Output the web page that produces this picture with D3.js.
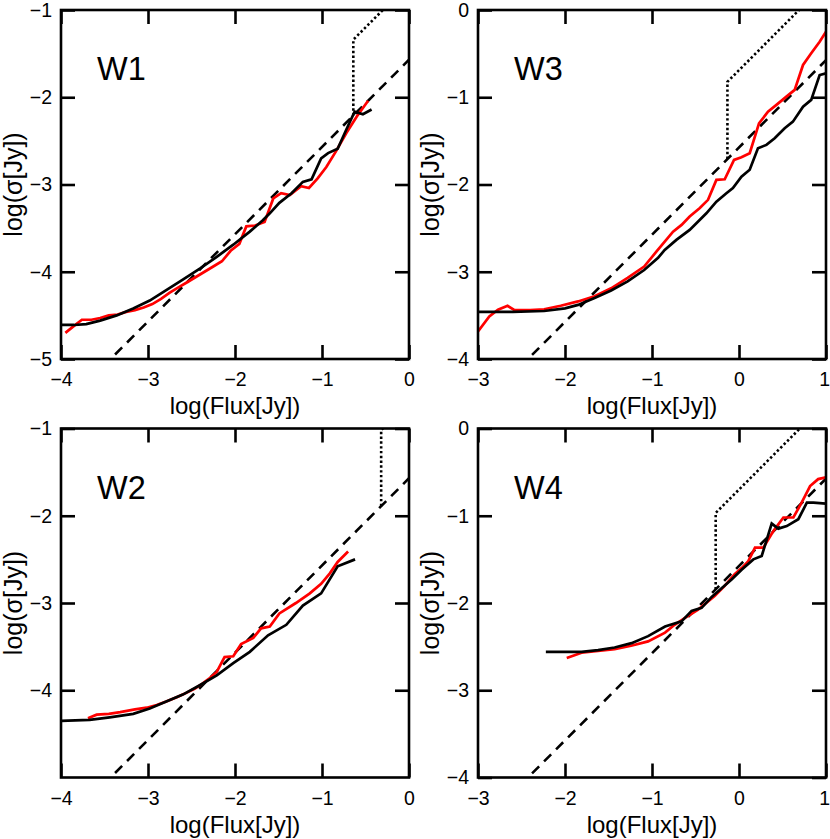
<!DOCTYPE html>
<html><head><meta charset="utf-8">
<script src="https://cdn.jsdelivr.net/npm/d3@7"></script>
<style>
body{margin:0;background:#fff}
svg{display:block}
text{font-family:"Liberation Sans",Arial,Helvetica,sans-serif;fill:#000}
</style>
</head><body>
<svg id="chart" width="830" height="839"></svg>
<script>
// ---------------- data ----------------
const bandNames = ["W1", "W3", "W2", "W4"];

const xDomainW12 = [-4, 0];
const yDomainW12 = [-5, -1];
const xDomainW34 = [-3, 1];
const yDomainW34 = [-4, 0];

const xTicksW12 = [-4, -3, -2, -1, 0];
const yTicksW1 = [-5, -4, -3, -2, -1];
const yTicksW2 = [-4, -3, -2, -1];
const xTicksW34 = [-3, -2, -1, 0, 1];
const yTicksW34 = [-4, -3, -2, -1, 0];

// red curves [log Flux, log sigma]
const redW1 = [[-3.95,-4.70],[-3.85,-4.62],[-3.76,-4.55],[-3.65,-4.55],[-3.55,-4.53],[-3.45,-4.50],[-3.35,-4.49],[-3.25,-4.46],[-3.15,-4.44],[-3.05,-4.41],[-2.95,-4.37],[-2.85,-4.31],[-2.75,-4.24],[-2.65,-4.18],[-2.55,-4.12],[-2.45,-4.06],[-2.35,-4.00],[-2.25,-3.94],[-2.15,-3.88],[-2.05,-3.76],[-1.95,-3.68],[-1.87,-3.48],[-1.77,-3.47],[-1.66,-3.43],[-1.56,-3.16],[-1.47,-3.10],[-1.37,-3.12],[-1.24,-3.02],[-1.15,-3.04],[-1.05,-2.93],[-0.95,-2.80],[-0.84,-2.62],[-0.72,-2.41],[-0.60,-2.22],[-0.47,-2.04]];
const blackW1 = [[-4.0,-4.61],[-3.85,-4.61],[-3.71,-4.60],[-3.55,-4.56],[-3.36,-4.50],[-3.17,-4.42],[-2.98,-4.33],[-2.79,-4.21],[-2.60,-4.09],[-2.40,-3.96],[-2.21,-3.83],[-2.02,-3.69],[-1.83,-3.54],[-1.68,-3.41],[-1.60,-3.33],[-1.49,-3.21],[-1.35,-3.10],[-1.22,-2.97],[-1.12,-2.94],[-1.01,-2.70],[-0.93,-2.64],[-0.82,-2.59],[-0.72,-2.37],[-0.625,-2.165],[-0.53,-2.195],[-0.43,-2.14]];

const redW3 = [[-3.0,-3.685],[-2.87,-3.513],[-2.77,-3.436],[-2.66,-3.39],[-2.58,-3.44],[-2.4,-3.44],[-2.24,-3.43],[-2.05,-3.39],[-1.85,-3.34],[-1.66,-3.28],[-1.47,-3.19],[-1.28,-3.07],[-1.09,-2.94],[-0.95,-2.77],[-0.758,-2.54],[-0.66,-2.463],[-0.567,-2.367],[-0.45,-2.27],[-0.356,-2.176],[-0.26,-1.947],[-0.164,-1.94],[-0.057,-1.718],[0.028,-1.688],[0.123,-1.642],[0.23,-1.30],[0.333,-1.165],[0.43,-1.088],[0.545,-0.993],[0.64,-0.916],[0.736,-0.63],[0.83,-0.496],[0.927,-0.363],[1.0,-0.249]];
const blackW3 = [[-3.0,-3.46],[-2.6,-3.46],[-2.24,-3.45],[-2.0,-3.42],[-1.85,-3.38],[-1.66,-3.30],[-1.47,-3.215],[-1.28,-3.11],[-1.09,-2.98],[-0.93,-2.84],[-0.854,-2.75],[-0.72,-2.635],[-0.567,-2.52],[-0.375,-2.33],[-0.26,-2.196],[-0.145,-2.10],[-0.07,-2.04],[0.028,-1.91],[0.123,-1.83],[0.218,-1.585],[0.315,-1.546],[0.41,-1.47],[0.525,-1.355],[0.62,-1.28],[0.736,-1.108],[0.83,-1.03],[0.927,-0.745],[1.0,-0.725]];

const redW2 = [[-3.69,-4.32],[-3.59,-4.28],[-3.45,-4.27],[-3.32,-4.25],[-3.15,-4.22],[-3.015,-4.20],[-2.90,-4.17],[-2.79,-4.13],[-2.67,-4.08],[-2.56,-4.03],[-2.46,-3.98],[-2.37,-3.92],[-2.29,-3.86],[-2.21,-3.79],[-2.12,-3.62],[-2.02,-3.61],[-1.93,-3.47],[-1.79,-3.40],[-1.70,-3.29],[-1.60,-3.27],[-1.49,-3.12],[-1.30,-3.00],[-1.14,-2.89],[-1.01,-2.78],[-0.91,-2.66],[-0.82,-2.53],[-0.70,-2.41]];
const blackW2 = [[-4.0,-4.35],[-3.67,-4.34],[-3.44,-4.31],[-3.17,-4.27],[-2.98,-4.21],[-2.79,-4.13],[-2.60,-4.05],[-2.40,-3.94],[-2.21,-3.83],[-2.02,-3.69],[-1.83,-3.56],[-1.62,-3.37],[-1.41,-3.25],[-1.22,-3.03],[-1.01,-2.89],[-0.82,-2.58],[-0.62,-2.50]];

const redW4 = [[-1.98,-2.63],[-1.81,-2.57],[-1.62,-2.55],[-1.43,-2.53],[-1.24,-2.49],[-1.045,-2.44],[-0.85,-2.34],[-0.74,-2.25],[-0.62,-2.17],[-0.47,-2.075],[-0.28,-1.92],[-0.17,-1.81],[-0.05,-1.67],[0.03,-1.60],[0.107,-1.52],[0.184,-1.366],[0.28,-1.366],[0.395,-1.176],[0.51,-1.02],[0.625,-1.02],[0.72,-0.85],[0.817,-0.66],[0.91,-0.58],[1.0,-0.56]];
const blackW4 = [[-2.22,-2.56],[-2.0,-2.56],[-1.81,-2.56],[-1.62,-2.54],[-1.43,-2.51],[-1.235,-2.46],[-1.045,-2.38],[-0.85,-2.27],[-0.66,-2.21],[-0.545,-2.09],[-0.43,-2.055],[-0.314,-1.93],[-0.20,-1.83],[-0.085,-1.73],[0.03,-1.62],[0.165,-1.50],[0.261,-1.46],[0.376,-1.09],[0.452,-1.148],[0.549,-1.118],[0.682,-1.04],[0.78,-0.85],[0.855,-0.85],[1.0,-0.86]];

// reference lines: dashed  log sigma = log F + dashedOffset
//                  dotted  vertical at dottedCut, then log sigma = log F + dottedOffset
const dashedOffset = {W1:-1.57, W3:-1.575, W2:-1.57, W4:-1.575};
const dottedCut    = {W1:-0.64, W3:-0.133, W2:-0.32, W4:-0.268};
const dottedOffset = {W1:-0.70, W3:-0.69, W2:-0.70, W4:-0.70};

const xTitle = "log(Flux[Jy])";
const yTitle = "log(σ[Jy])";

// ---------------- layout ----------------
const panelW = 348, panelH = 349;
const frames = {
  W1:{x:61,  y:10},
  W3:{x:478, y:10},
  W2:{x:61,  y:428.5},
  W4:{x:478, y:428.5}
};
const specs = {
  W1:{xd:xDomainW12, yd:yDomainW12, xt:xTicksW12, yt:yTicksW1, red:redW1, black:blackW1},
  W3:{xd:xDomainW34, yd:yDomainW34, xt:xTicksW34, yt:yTicksW34, red:redW3, black:blackW3},
  W2:{xd:xDomainW12, yd:yDomainW12, xt:xTicksW12, yt:yTicksW2, red:redW2, black:blackW2},
  W4:{xd:xDomainW34, yd:yDomainW34, xt:xTicksW34, yt:yTicksW34, red:redW4, black:blackW4}
};

const svg = d3.select("#chart");
const fmt = d3.format("d");
const tickLen = 14;
const axisW = 2.6;
const totalW = +svg.attr("width");

bandNames.forEach((name, i) => {
  const s = specs[name], f = frames[name];
  const g = svg.append("g").attr("transform", `translate(${f.x},${f.y})`);
  const x = d3.scaleLinear().domain(s.xd).range([0, panelW]);
  const y = d3.scaleLinear().domain(s.yd).range([panelH, 0]);

  const clipId = "clip" + i;
  g.append("clipPath").attr("id", clipId).append("rect")
    .attr("x", 0).attr("y", 0).attr("width", panelW).attr("height", panelH);

  const plot = g.append("g").attr("clip-path", `url(#${clipId})`);
  const line = d3.line().x(d => x(d[0])).y(d => y(d[1]));

  // dashed line
  const dOff = dashedOffset[name];
  plot.append("path")
    .attr("d", line([[s.xd[0] - 2, s.xd[0] - 2 + dOff], [s.xd[1], s.xd[1] + dOff]]))
    .attr("fill", "none").attr("stroke", "#000").attr("stroke-width", 2.6)
    .attr("stroke-dasharray", "10,7");

  // dotted line
  const cut = dottedCut[name], tOff = dottedOffset[name];
  plot.append("path")
    .attr("d", line([[cut, cut + dOff], [cut, cut + tOff], [s.xd[1] + 1, s.xd[1] + 1 + tOff]]))
    .attr("fill", "none").attr("stroke", "#000").attr("stroke-width", 2.6)
    .attr("stroke-dasharray", "2.4,2.4");

  plot.append("path").attr("d", line(s.red))
    .attr("fill", "none").attr("stroke", "#ff0000").attr("stroke-width", 2.7)
    .attr("stroke-linejoin", "miter");
  plot.append("path").attr("d", line(s.black))
    .attr("fill", "none").attr("stroke", "#000").attr("stroke-width", 2.7)
    .attr("stroke-linejoin", "miter");

  // axes with inward ticks on all four sides
  const axB = d3.axisBottom(x).tickValues(s.xt).tickSize(-tickLen).tickPadding(13.5).tickFormat(fmt);
  const axT = d3.axisTop(x).tickValues(s.xt).tickSize(-tickLen).tickFormat("");
  const axL = d3.axisLeft(y).tickValues(s.yt).tickSize(-tickLen).tickPadding(9).tickFormat(fmt);
  const axR = d3.axisRight(y).tickValues(s.yt).tickSize(-tickLen).tickFormat("");

  const styleAxis = sel => {
    sel.selectAll("path.domain").remove();
    sel.selectAll(".tick line").attr("stroke", "#000").attr("stroke-width", axisW);
    sel.selectAll(".tick text").attr("font-size", 19.5).attr("font-family", '"Liberation Sans",Arial,sans-serif').attr("fill", "#000");
  };
  const gB = g.append("g").attr("transform", `translate(0,${panelH})`).call(axB).call(styleAxis);
  // keep the last x label inside the picture
  gB.selectAll(".tick text").each(function(d) {
    const bb = this.getBBox();
    const absRight = f.x + x(d) + bb.width / 2;
    if (absRight > totalW) {
      d3.select(this).attr("text-anchor", "end").attr("x", totalW - f.x - x(d) - 0.5);
    }
  });
  g.append("g").call(axT).call(styleAxis);
  g.append("g").call(axL).call(styleAxis);
  g.append("g").attr("transform", `translate(${panelW},0)`).call(axR).call(styleAxis);

  g.append("rect").attr("x", 0).attr("y", 0).attr("width", panelW).attr("height", panelH)
    .attr("fill", "none").attr("stroke", "#000").attr("stroke-width", axisW);

  // panel label
  g.append("text").attr("x", 36).attr("y", 70).attr("font-size", 32.5).text(name);

  // axis titles
  g.append("text").attr("x", panelW / 2).attr("y", panelH + 55)
    .attr("text-anchor", "middle").attr("font-size", 24).text(xTitle);
  g.append("text").attr("transform", `translate(${-39.5},${panelH / 2}) rotate(-90)`)
    .attr("text-anchor", "middle").attr("font-size", 25).text(yTitle);
});
</script>
</body></html>
